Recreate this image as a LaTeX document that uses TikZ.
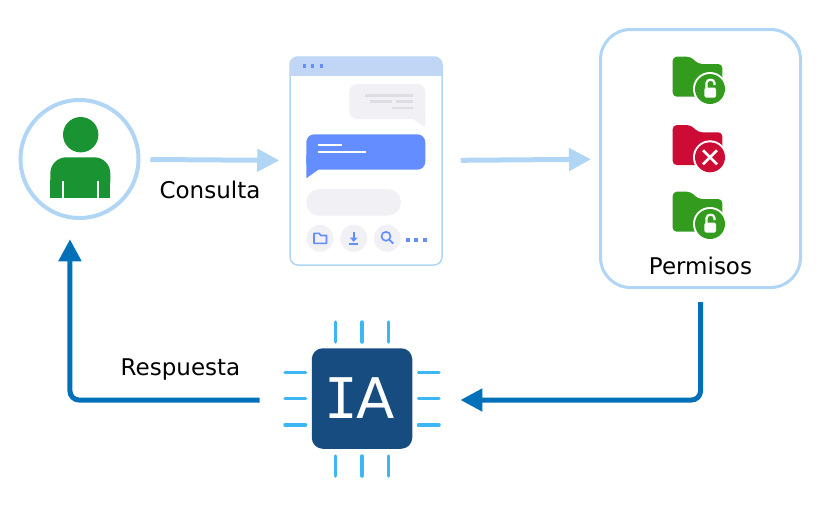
\documentclass[tikz,border=0pt]{standalone}
\usepackage{fontspec}
\setmainfont{DejaVu Sans}
\newfontfamily\chipfont{DejaVu Sans Mono}
\usetikzlibrary{arrows.meta}
\definecolor{paleblue}{HTML}{B0D5F5}
\definecolor{barblue}{HTML}{C0D6F4}
\definecolor{darkblue}{HTML}{0070B8}
\definecolor{chipblue}{HTML}{174C80}
\definecolor{pinblue}{HTML}{3DB7F4}
\definecolor{msgblue}{HTML}{648EFF}
\definecolor{msggrey}{HTML}{F0F0F5}
\definecolor{msgline}{HTML}{DDDDE3}
\definecolor{usergreen}{HTML}{1A9432}
\definecolor{foldergreen}{HTML}{339C1E}
\definecolor{foldered}{HTML}{CC0C35}
\tikzset{
	lbl/.style={font=\fontsize{23}{27}\selectfont,inner sep=0pt},
	palearrow/.style={draw=paleblue,line width=5pt,-{Triangle[length=22pt,width=22pt]}},
	darkarrow/.style={draw=darkblue,line width=5pt,rounded corners=9pt,-{Triangle[length=22pt,width=22pt]}},
	pin/.style={draw=pinblue,line width=3.5pt,line cap=round},
	pics/folder/.style={code={
		\fill[#1,rounded corners=4pt] (-37.3,-32.3)--(-19.3,-32.3)--(-11.7,-25)--(12.3,-25)--(12.3,7.7)--(-37.3,7.7)--cycle;
		\fill[white] (0,0) circle (17);
		\fill[#1] (0,0) circle (15);
	}},
}
\begin{document}
\begin{tikzpicture}[x=1pt,y=-1pt,>=stealth,line cap=butt]
	\useasboundingbox (0,0) rectangle (820,520);
	% user
	\node[circle,draw=paleblue,line width=4pt,minimum size=118pt,inner sep=0pt] (user) at (79.5,159) {};
	\fill[usergreen] (80.7,134.7) circle (17.7);
	\fill[usergreen,rounded corners=16pt] (50.3,197.7)--(50.3,157.3)--(110.3,157.3)--(110.3,197.7)--cycle;
	\fill[usergreen] (50.3,180)rectangle(110.3,197.7);
	\foreach \x in {63.3,97.7}
		\draw[white,line width=2pt] (\x,180.7)--(\x,197.7);
	% chat window
	\node[draw=paleblue,line width=1.5pt,rounded corners=8pt,minimum width=152pt,minimum height=208pt,inner sep=0pt] (chat) at (366,161) {};
	\begin{scope}
		\clip[rounded corners=8pt] (290,57) rectangle (442,265);
		\fill[barblue] (290,57) rectangle (442,76);
	\end{scope}
	\foreach \x in {304.7,312.7,321.3}
		\fill[msgblue] (\x-1.6,64.4) rectangle (\x+1.6,67.6);
	\fill[msggrey,rounded corners=8pt] (413,119)--(349.3,119)--(349.3,84)--(425.3,84)--(425.3,119)--cycle;
	\fill[msggrey] (413,119)--(425.3,127.3)--(425.3,112)--cycle;
	\foreach \a/\b/\y in {365/413.3/95.3,370/391.7/101.7,396/413.3/101.7,391.7/413.3/108}
		\draw[msgline,line width=2.5pt] (\a,\y)--(\b,\y);
	\fill[msgblue,rounded corners=8pt] (318.3,169.7)--(425.3,169.7)--(425.3,134.3)--(306.3,134.3)--(306.3,169.7)--cycle;
	\fill[msgblue] (318.3,169.7)--(306.3,178.3)--(306.3,155)--(318.3,155)--cycle;
	\draw[white,line width=2pt] (318.3,145.3)--(342.3,145.3);
	\draw[white,line width=2pt] (318.3,152)--(366,152);
	\fill[msggrey,rounded corners=13pt] (306.3,189) rectangle (401,215.7);
	\foreach \x in {320,353.7,387.3}
		\fill[msggrey] (\x,238.3) circle (13.5);
	\foreach \x in {408,416,424.7}
		\fill[msgblue] (\x-2,238.4) rectangle (\x+2,242.4);
	\draw[msgblue,line width=1.6pt,line join=round] (314,243.3)--(314,233.3)--(319,233.3)--(321,235.5)--(326.5,235.5)--(326.5,243.3)--cycle;
	\draw[msgblue,line width=1.6pt] (353.7,232)--(353.7,240);
	\fill[msgblue] (349.7,237.5)--(357.7,237.5)--(353.7,241.8)--cycle;
	\draw[msgblue,line width=1.6pt] (349.3,244)--(358.3,244);
	\draw[msgblue,line width=1.6pt] (386,236.3) circle (4.5);
	\draw[msgblue,line width=1.8pt] (389.5,239.8)--(393.3,243.6);
	% permissions
	\node[draw=paleblue,line width=3pt,rounded corners=30pt,minimum width=200pt,minimum height=258pt,inner sep=0pt] (perm) at (700.5,158.5) {};
	\path (710,89) pic {folder=foldergreen};
	\path (710,157.3) pic {folder=foldered};
	\path (710,224) pic {folder=foldergreen};
	\foreach \y/\s in {0/9,135/7}{
		\fill[white,rounded corners=1.5pt] (704.3,87.7+\y) rectangle (716,97.5+\y);
		\draw[white,line width=2.2pt] (706.5,88+\y)--(706.5,83+\y) to[out=90,in=90,looseness=1.4] (714.5,83+\y)--(714.5,85+\y);
	}
	\draw[white,line width=2.6pt] (703,150.3)--(717,164.3) (717,150.3)--(703,164.3);
	\node[lbl,anchor=base] (permlbl) at (700.5,274) {Permisos};
	% chip
	\node[fill=chipblue,rounded corners=11pt,minimum size=100.5pt,inner sep=0pt,text=white,font=\fontsize{56}{60}\selectfont] (chip) at (362,398.5) {{\chipfont I}\kern-2pt A\kern5pt};
	\foreach \y in {372.3,398.7,425}{
		\draw[pin] (285,\y)--(305.5,\y);
		\draw[pin] (418.5,\y)--(439,\y);
	}
	\foreach \x in {335.7,362,388.3}{
		\draw[pin] (\x,322)--(\x,342);
		\draw[pin] (\x,456)--(\x,476);
	}
	% arrows
	\draw[palearrow,shorten <=10pt,shorten >=10pt] (user)--(chat);
	\draw[palearrow,shorten <=18pt,shorten >=8pt] (chat)--(perm);
	\draw[darkarrow,shorten <=13pt,shorten >=48pt] (perm.south) |- ([yshift=-1.5pt]chip.east);
	\draw[darkarrow,shorten <=52pt,shorten >=20pt] ([yshift=-1.5pt]chip.west) -| (user.261);
	\node[lbl,anchor=base] (ask) at (210,198) {Consulta};
	\node[lbl,anchor=base] (reply) at (180.5,375) {Respuesta};
\end{tikzpicture}
\end{document}
